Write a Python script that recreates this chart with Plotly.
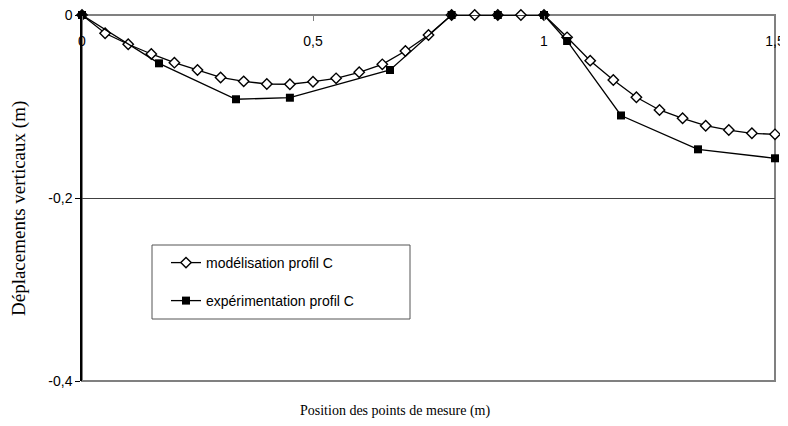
import plotly.graph_objects as go

# ---- data ----
x_model = [0, 0.05, 0.1, 0.15, 0.2, 0.25, 0.3, 0.35, 0.4, 0.45, 0.5, 0.55, 0.6, 0.65, 0.7, 0.75,
           0.8, 0.85, 0.9, 0.95, 1.0, 1.05, 1.1, 1.15, 1.2, 1.25, 1.3, 1.35, 1.4, 1.45, 1.5]
y_model = [0, -0.020, -0.032, -0.0426, -0.0521, -0.0601, -0.0683, -0.0725, -0.0754, -0.0757,
           -0.0729, -0.0692, -0.0626, -0.0539, -0.0393, -0.0219,
           0, 0, 0, 0, 0, -0.0244, -0.0499, -0.0710, -0.0899, -0.1038, -0.1129, -0.1210,
           -0.1257, -0.1293, -0.1304]

x_exp = [0, 0.1667, 0.3333, 0.45, 0.6667, 0.8, 0.9, 1.0, 1.05, 1.1667, 1.3333, 1.5]
y_exp = [0, -0.0528, -0.0921, -0.0904, -0.0601, 0, 0, 0, -0.0284, -0.1098, -0.1468, -0.1566]

name_model = "modélisation profil C"
name_exp = "expérimentation profil C"

x_ticks = [0, 0.5, 1, 1.5]
x_ticktext = ["0", "0,5", "1", "1,5"]
y_ticks = [0, -0.2, -0.4]
y_ticktext = ["0", "-0,2", "-0,4"]

x_title = "Position des points de mesure (m)"
y_title = "Déplacements verticaux (m)"

# ---- figure ----
fig = go.Figure()

fig.add_trace(go.Scatter(
    x=x_model, y=y_model, name=name_model, mode="lines+markers",
    line=dict(color="black", width=1.3),
    marker=dict(symbol="diamond", size=8, color="white", line=dict(color="black", width=1.4)),
    cliponaxis=False, legend="legend", showlegend=True,
))
fig.add_trace(go.Scatter(
    x=x_exp, y=y_exp, name=name_exp, mode="lines+markers",
    line=dict(color="black", width=1.3),
    marker=dict(symbol="square", size=8, color="black", line=dict(color="black", width=0)),
    cliponaxis=False, legend="legend2", showlegend=True,
))

OFF = 8  # page body margin offset
W, H = 788 - OFF, 426 - OFF
# reference pixel positions of the plot area
REF_LEFT, REF_RIGHT, REF_TOP, REF_BOTTOM = 82, 775, 15, 381
L = REF_LEFT - OFF
R = W - (REF_RIGHT - OFF)
B = H - (REF_BOTTOM - OFF)
T = 6
aw = W - L - R
ah = H - T - B
D = 1 - ((REF_TOP - OFF) - T) / ah  # y-domain top

def px_x(px):
    return (px - OFF - L) / aw

def px_y(py):
    return (H - B - (py - OFF)) / ah

fig.update_layout(
    width=W, height=H, autosize=False,
    margin=dict(l=L, r=R, t=T, b=B, pad=0),
    paper_bgcolor="white", plot_bgcolor="white",
    font=dict(family="Liberation Sans, Arial, sans-serif", size=14, color="black"),
    separators=", ",
    showlegend=True,
    xaxis=dict(
        range=[0, 1.5], side="bottom", anchor="free", position=D,
        showgrid=False, zeroline=False, showline=False, automargin=False,
        tickvals=x_ticks, ticktext=x_ticktext,
        ticks="outside", ticklen=5, tickcolor="#808080", tickwidth=1,
        ticklabelstandoff=8, ticklabeloverflow="allow",
        tickfont=dict(size=14),
    ),
    yaxis=dict(
        range=[-0.4, 0], domain=[0, D], showgrid=True, gridcolor="#404040", gridwidth=1,
        zeroline=False, showline=True, linecolor="black", linewidth=1.5, automargin=False,
        tickvals=y_ticks, ticktext=y_ticktext,
        ticks="outside", ticklen=5, tickcolor="black", tickwidth=1,
        ticklabeloverflow="allow",
        tickfont=dict(size=14),
    ),
    shapes=[
        dict(type="rect", xref="x domain", yref="y domain", x0=0, x1=1, y0=0, y1=1,
             line=dict(color="#808080", width=2), fillcolor="rgba(0,0,0,0)", layer="below"),
        dict(type="rect", xref="paper", yref="paper",
             x0=px_x(152), x1=px_x(410), y0=px_y(319), y1=px_y(245),
             line=dict(color="#555555", width=1), fillcolor="white", layer="below"),
    ],
    legend=dict(
        x=px_x(166), y=px_y(263), xanchor="left", yanchor="middle", visible=True,
        bgcolor="rgba(0,0,0,0)", borderwidth=0, font=dict(size=14),
    ),
    legend2=dict(
        x=px_x(166), y=px_y(301), xanchor="left", yanchor="middle", visible=True,
        bgcolor="rgba(0,0,0,0)", borderwidth=0, font=dict(size=14),
    ),
    annotations=[
        dict(text=x_title, xref="paper", yref="paper", x=px_x(395), y=px_y(411),
             xanchor="center", yanchor="middle", showarrow=False,
             font=dict(family="Liberation Serif, Times New Roman, serif", size=14)),
        dict(text=y_title, xref="paper", yref="paper", x=px_x(19), y=px_y(209),
             xanchor="center", yanchor="middle", showarrow=False, textangle=-90,
             font=dict(family="Liberation Serif, Times New Roman, serif", size=19)),
    ],
)

fig.write_html("out.html")
